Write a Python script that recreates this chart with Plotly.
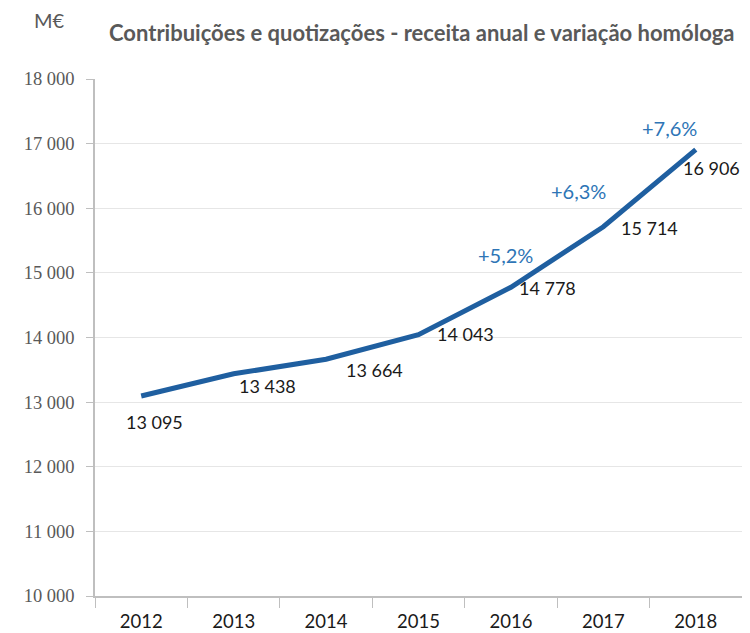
import plotly.graph_objects as go

years = ["2012", "2013", "2014", "2015", "2016", "2017", "2018"]
receita = [13095, 13438, 13664, 14043, 14778, 15714, 16906]
value_labels = ["13 095", "13 438", "13 664", "14 043", "14 778", "15 714", "16 906"]
pct_labels = ["", "", "", "", "+5,2%", "+6,3%", "+7,6%"]
y_ticks = [10000, 11000, 12000, 13000, 14000, 15000, 16000, 17000, 18000]
y_tick_text = ["10 000", "11 000", "12 000", "13 000", "14 000", "15 000", "16 000", "17 000", "18 000"]

# label offsets in pixels (style/position, not data)
val_dx = [13, 34, 48, 47, 37, 46, 16]
val_dy = [-26, -12, -11, 1, -1, -1, -18]
pct_dx = [0, 0, 0, 0, -5, -25, -26]
pct_dy = [0, 0, 0, 0, 32, 36, 22]

fig = go.Figure()
fig.add_trace(go.Scatter(
    x=years, y=receita, mode="lines",
    line=dict(color="#1F5FA0", width=5),
    hoverinfo="skip", showlegend=False,
))

for i, v in enumerate(receita):
    fig.add_annotation(x=i, y=v, text=value_labels[i], showarrow=False,
                       xshift=val_dx[i], yshift=val_dy[i],
                       font=dict(family="Lato", size=18, color="#1a1a1a"))
    if pct_labels[i]:
        fig.add_annotation(x=i, y=v, text=pct_labels[i], showarrow=False,
                           xshift=pct_dx[i], yshift=pct_dy[i],
                           font=dict(family="Lato", size=20, color="#2E75B6"))

fig.add_annotation(xref="paper", yref="paper", x=-0.097, y=1.114, xanchor="left", yanchor="middle",
                   text="M€", showarrow=False,
                   font=dict(family="Lato", size=20, color="#595959"))
fig.add_annotation(xref="paper", yref="paper", x=0.991, y=1.089, xanchor="right", yanchor="middle",
                   text="<b>Contribuições e quotizações - receita anual e variação homóloga</b>",
                   showarrow=False,
                   font=dict(family="Lato", size=22, color="#595959"))

fig.update_layout(
    width=734, height=625,
    margin=dict(l=87, r=0, t=71, b=37),
    plot_bgcolor="white", paper_bgcolor="white",
    xaxis=dict(type="category", range=[-0.5, 6.5], showgrid=False,
               showline=True, linecolor="#BFBFBF", linewidth=1.5,
               ticks="outside", tickson="boundaries", ticklen=10, tickcolor="#BFBFBF",
               ticklabelstandoff=8, automargin=False,
               tickfont=dict(family="Lato", size=18.5, color="#1a1a1a"), fixedrange=True),
    yaxis=dict(range=[10000, 18000], tickvals=y_ticks, ticktext=y_tick_text,
               showgrid=True, gridcolor="#E6E6E6", gridwidth=1,
               showline=True, linecolor="#BFBFBF", linewidth=1.5,
               ticks="outside", ticklen=7, tickcolor="#BFBFBF",
               ticklabelstandoff=8, automargin=False,
               tickfont=dict(family="Liberation Serif", size=18.5, color="#595959"),
               zeroline=False, fixedrange=True),
)

fig.write_html("out.html")
